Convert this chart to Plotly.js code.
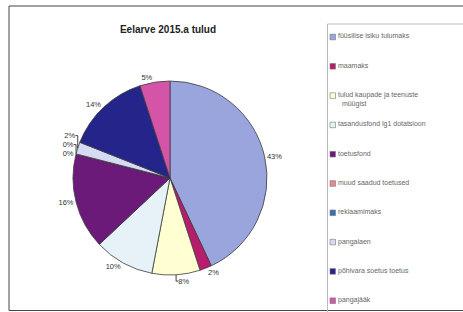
<!DOCTYPE html>
<html>
<head>
<meta charset="utf-8">
<script src="https://cdn.plot.ly/plotly-3.0.1.min.js"></script>
<style>
html,body{margin:0;padding:0;background:#fff;}
#chart{width:463px;height:312px;}
</style>
</head>
<body>
<div id="chart"></div>
<script>
// ---- data ----
const categories = [
  "füüsilise isiku tulumaks",
  "maamaks",
  "tulud kaupade ja teenuste müügist",
  "tasandusfond lg1 dotatsioon",
  "toetusfond",
  "muud saadud toetused",
  "reklaamimaks",
  "pangalaen",
  "põhivara soetus toetus",
  "pangajääk"
];
const shares = [43, 2, 8, 10, 16, 0, 0, 2, 14, 5];
const colors = ["#9ba5dd", "#b81c6c", "#ffffd2", "#e6f2f8", "#6c1a7a",
                "#e88a8a", "#3a6cb8", "#d6daf4", "#24248a", "#d455a8"];
const chartTitle = "Eelarve 2015.a tulud";

// ---- layout helpers (pixel -> paper) ----
const W = 463, H = 312;
const px = x => x / W;
const py = y => 1 - y / H;

function wrap(s) {
  if (s.length <= 30) return s;
  const i = s.lastIndexOf(" ", 26);
  return s.slice(0, i) + "<br>\u00a0\u00a0" + s.slice(i + 1);
}

// pie geometry
const cx = 170, cy = 178, r = 97;

const trace = {
  type: "pie",
  labels: categories,
  values: shares,
  marker: {colors: colors, line: {color: "#3c3c3c", width: 0.8}},
  sort: false,
  direction: "clockwise",
  rotation: 0,
  textposition: "outside",
  texttemplate: "%{percent:.0%}",
  textfont: {family: "Liberation Sans, Arial, sans-serif", size: 7.5, color: "#333"},
  domain: {x: [px(cx - r), px(cx + r)], y: [py(cy + r), py(cy - r)]},
  showlegend: false,
  hoverinfo: "label+percent"
};

const shapes = [
  // outer chart border
  {type: "rect", xref: "paper", yref: "paper", x0: px(9), x1: px(475), y0: py(310.5), y1: py(6),
   line: {color: "#444", width: 1}, fillcolor: "rgba(0,0,0,0)"},
  // legend box
  {type: "rect", xref: "paper", yref: "paper", x0: px(327.5), x1: px(475), y0: py(330), y1: py(24),
   line: {color: "#bbb", width: 1}, fillcolor: "rgba(0,0,0,0)"}
];
const annotations = [];
const legY0 = 37, legStep = 29.3;
categories.forEach((c, i) => {
  const y = legY0 + i * legStep;
  shapes.push({type: "rect", xref: "paper", yref: "paper",
    x0: px(330), x1: px(335.5), y0: py(y + 2.8), y1: py(y - 2.8),
    fillcolor: colors[i], line: {color: "#777", width: 0.6}});
  annotations.push({xref: "paper", yref: "paper", x: px(337), y: py(y - 5.5),
    xanchor: "left", yanchor: "top", align: "left", showarrow: false,
    text: wrap(c), borderpad: 0,
    font: {family: "Liberation Sans, Arial, sans-serif", size: 7, color: "#666"}});
});

const layout = {
  width: W, height: H,
  margin: {l: 0, r: 0, t: 0, b: 0, autoexpand: false},
  paper_bgcolor: "#fff",
  title: {text: chartTitle, x: px(168), xanchor: "center", y: py(29), yanchor: "middle",
          font: {family: "Liberation Sans, Arial, sans-serif", size: 10, weight: "bold", color: "#222"}},
  showlegend: false,
  shapes: shapes,
  annotations: annotations
};

Plotly.newPlot("chart", [trace], layout, {displayModeBar: false, staticPlot: true});
</script>
</body>
</html>
